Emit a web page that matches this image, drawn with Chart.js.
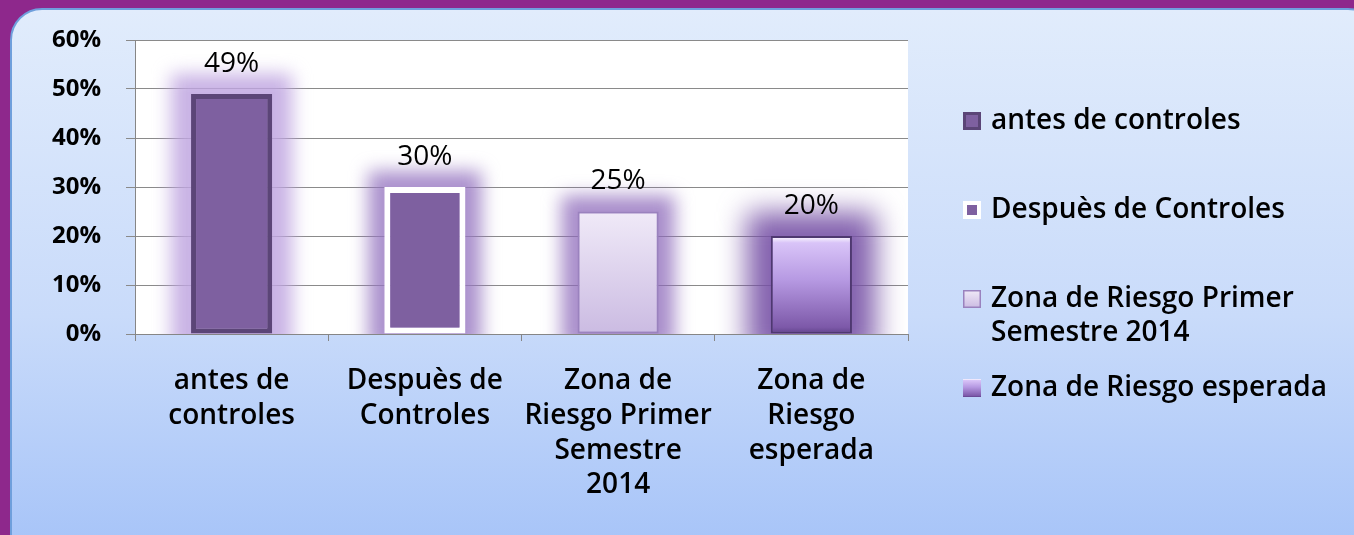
<!DOCTYPE html>
<html>
<head>
<meta charset="utf-8">
<script src="https://cdn.jsdelivr.net/npm/chart.js@4.4.1/dist/chart.umd.min.js"></script>
<style>
  html, body { margin: 0; padding: 0; width: 1354px; height: 535px; overflow: hidden; background: #8E288C; }
  #panel { position: absolute; left: 10px; top: 8px; width: 1370px; height: 560px; border-radius: 32px;
    background: linear-gradient(to bottom, #E1ECFC 0%, #C9DBFA 55%, #A4C2F8 100%);
    border: 2px solid #6F9FDC; box-sizing: border-box; }
  #wrap { position: absolute; left: 0; top: 0; width: 1354px; height: 535px; }
</style>
</head>
<body>
<div id="panel"></div>
<div id="wrap"><canvas id="c" width="1354" height="535"></canvas></div>
<script>
// ---- data ----
const categories = ['antes de controles', 'Despuès de Controles', 'Zona de Riesgo Primer Semestre 2014', 'Zona de Riesgo esperada'];
const axisLabels = [['antes de', 'controles'], ['Despuès de', 'Controles'], ['Zona de', 'Riesgo Primer', 'Semestre', '2014'], ['Zona de', 'Riesgo', 'esperada']];
const values = [49, 30, 25, 20];
const yTickValues = [0, 10, 20, 30, 40, 50, 60];

// ---- styles ----
const FONT = "'Open Sans', 'DejaVu Sans', sans-serif";
const borderColors = ['#5B4577', '#FFFFFF', '#9A82BE', '#4E3870'];
const borderWidths = [5, 6, 2, 2];
const glowColors = ['rgba(192,166,224,0.85)', 'rgba(150,118,192,0.8)', 'rgba(140,104,186,0.75)', 'rgba(118,80,165,0.9)'];

function makeFill(ctx2d, i, top, bot) {
  if (i === 0 || i === 1) return '#7E60A0';
  if (!isFinite(top) || !isFinite(bot)) return i === 2 ? '#E2D8EF' : '#A98AD6';
  const g = ctx2d.createLinearGradient(0, top, 0, bot);
  if (i === 2) {
    g.addColorStop(0, '#F0EAF8');
    g.addColorStop(1, '#CBBBE2');
  } else {
    g.addColorStop(0, '#FFFFFF');
    g.addColorStop(0.07, '#D9C4F8');
    g.addColorStop(0.45, '#B699E2');
    g.addColorStop(0.93, '#7D59A9');
    g.addColorStop(1, '#5F418A');
  }
  return g;
}

function barFill(c) {
  const chart = c.chart;
  const y = chart.scales && chart.scales.y;
  const i = c.dataIndex;
  if (!y) return makeFill(chart.ctx, i, NaN, NaN);
  return makeFill(chart.ctx, i, y.getPixelForValue(values[i]), y.getPixelForValue(0));
}

const plotBg = {
  id: 'plotBg',
  beforeDraw(chart) {
    const a = chart.chartArea, ctx = chart.ctx;
    ctx.save();
    ctx.fillStyle = '#FFFFFF';
    ctx.fillRect(a.left, a.top, a.right - a.left, a.bottom - a.top);
    ctx.restore();
  }
};

const glow = {
  id: 'glow',
  beforeDatasetDraw(chart, args) {
    const ctx = chart.ctx;
    const meta = chart.getDatasetMeta(args.index);
    ctx.save();
    ctx.beginPath();
    ctx.rect(chart.chartArea.left, chart.chartArea.top - 30, chart.chartArea.right - chart.chartArea.left, chart.chartArea.bottom - chart.chartArea.top + 30);
    ctx.clip();
    meta.data.forEach((bar, i) => {
      const p = bar.getProps(['x', 'y', 'base', 'width'], true);
      const inflate = i === 3 ? 24 : (i === 0 ? 20 : 16);
      ctx.filter = 'blur(' + (i === 3 ? 14 : 9) + 'px)';
      ctx.fillStyle = glowColors[i];
      ctx.fillRect(p.x - p.width / 2 - inflate, p.y - inflate, p.width + inflate * 2, p.base - p.y + inflate * 2);
    });
    ctx.filter = 'none';
    ctx.restore();
  }
};

const valueLabels = {
  id: 'valueLabels',
  afterDatasetsDraw(chart) {
    const ctx = chart.ctx;
    const meta = chart.getDatasetMeta(0);
    ctx.save();
    ctx.font = '400 28px ' + FONT;
    ctx.fillStyle = '#000000';
    ctx.textAlign = 'center';
    ctx.textBaseline = 'middle';
    meta.data.forEach((bar, i) => {
      ctx.fillText(values[i] + '%', bar.x, bar.y - 30);
    });
    ctx.restore();
  }
};

const sideLegend = {
  id: 'sideLegend',
  afterDraw(chart) {
    const ctx = chart.ctx;
    const x0 = 963, sq = 18, textX = 991, firstY = 121, step = 89, lineH = 34, maxW = 360;
    ctx.save();
    ctx.font = '600 28px ' + FONT;
    ctx.fillStyle = '#000000';
    ctx.textBaseline = 'middle';
    ctx.textAlign = 'left';
    categories.forEach((label, i) => {
      const cy = firstY + i * step;
      const words = label.split(' ');
      const lines = [];
      let cur = '';
      words.forEach(w => {
        const t = cur ? cur + ' ' + w : w;
        if (ctx.measureText(t).width > maxW && cur) { lines.push(cur); cur = w; } else { cur = t; }
      });
      if (cur) lines.push(cur);
      const sx = x0, sy = cy - sq / 2;
      ctx.save();
      if (i === 0) {
        ctx.fillStyle = '#5B4577'; ctx.fillRect(sx, sy, sq, sq);
        ctx.fillStyle = '#7E60A0'; ctx.fillRect(sx + 3, sy + 3, sq - 6, sq - 6);
      } else if (i === 1) {
        ctx.fillStyle = '#FFFFFF'; ctx.fillRect(sx, sy, sq, sq);
        ctx.fillStyle = '#7E60A0'; ctx.fillRect(sx + 4, sy + 4, sq - 8, sq - 8);
      } else if (i === 2) {
        ctx.fillStyle = makeFill(ctx, 2, sy, sy + sq); ctx.fillRect(sx, sy, sq, sq);
        ctx.strokeStyle = '#9A82BE'; ctx.lineWidth = 1.5; ctx.strokeRect(sx + 0.75, sy + 0.75, sq - 1.5, sq - 1.5);
      } else {
        ctx.fillStyle = makeFill(ctx, 3, sy, sy + sq); ctx.fillRect(sx, sy, sq, sq);
      }
      ctx.restore();
      lines.forEach((ln, k) => ctx.fillText(ln, textX, cy + k * lineH));
    });
    ctx.restore();
  }
};

Chart.defaults.font.family = FONT;
Chart.defaults.color = '#000000';

function build() {
  new Chart(document.getElementById('c'), {
    type: 'bar',
    data: {
      labels: axisLabels,
      datasets: [{
        data: values,
        backgroundColor: barFill,
        borderColor: borderColors,
        borderWidth: borderWidths,
        borderSkipped: false,
        barPercentage: 0.42,
        categoryPercentage: 1.0
      }]
    },
    options: {
      responsive: false,
      animation: false,
      devicePixelRatio: 1,
      layout: { padding: { top: 40, right: 446, bottom: 0, left: 0 } },
      plugins: { legend: { display: false }, tooltip: { enabled: false } },
      scales: {
        x: {
          afterFit(s) { s.height = 201; },
          grid: { drawOnChartArea: false, drawTicks: true, tickLength: 7, color: '#868686', offset: true },
          border: { color: '#868686', width: 1 },
          ticks: { font: { size: 28, weight: '600', lineHeight: 1.24 }, color: '#000000', padding: 23, maxRotation: 0, autoSkip: false }
        },
        y: {
          min: yTickValues[0],
          max: yTickValues[yTickValues.length - 1],
          afterFit(s) { s.width = 135; },
          afterBuildTicks(s) { s.ticks = yTickValues.map(v => ({ value: v })); },
          grid: { color: '#8A8A8A', lineWidth: 1, tickLength: 9 },
          border: { color: '#868686', width: 1 },
          ticks: { font: { size: 24, weight: 'bold' }, color: '#000000', padding: 25, callback: v => v + '%' }
        }
      }
    },
    plugins: [plotBg, glow, valueLabels, sideLegend]
  });
}

if (document.fonts && document.fonts.load) {
  Promise.all([
    document.fonts.load("400 28px 'Open Sans'"),
    document.fonts.load("600 28px 'Open Sans'"),
    document.fonts.load("700 24px 'Open Sans'")
  ]).then(build, build);
} else {
  build();
}
</script>
</body>
</html>
